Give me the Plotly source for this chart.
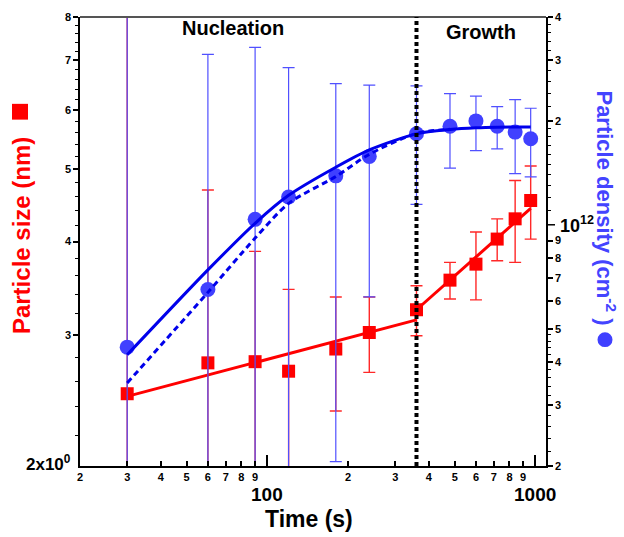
import math
import plotly.graph_objects as go

# ---------------- data ----------------
time_s = [30, 60, 90, 120, 180, 240, 360, 480, 600, 720, 840, 960]
size_nm = [2.50, 2.75, 2.76, 2.68, 2.87, 3.02, 3.24, 3.55, 3.73, 4.03, 4.29, 4.54]
size_err = [6.0, 1.94, 1.12, 0.77, 0.50, 0.35, 0.25, 0.20, 0.39, 0.26, 0.54, 0.51]
density = [4.42e11, 6.49e11, 1.037e12, 1.204e12, 1.386e12, 1.578e12, 1.836e12,
           1.93e12, 2.0e12, 1.93e12, 1.856e12, 1.776e12]
density_err = [5e12, 2.47e12, 2.23e12, 1.65e12, 1.18e12, 0.96e12, 0.69e12,
               0.47e12, 0.36e12, 0.27e12, 0.45e12, 0.40e12]

# fitted curves
size_fit_nuc_t = [30, 360]
size_fit_nuc = [2.48, 3.14]
size_fit_gro_t = [360, 960]
size_fit_gro = [3.24, 4.43]
dens_fit_solid_t = [30, 60, 90, 120, 180, 240, 360, 480, 600, 720, 960]
dens_fit_solid = [4.20e11, 7.40e11, 1.01e12, 1.217e12, 1.468e12, 1.648e12,
                  1.834e12, 1.888e12, 1.91e12, 1.918e12, 1.92e12]
dens_fit_dash_t = [30, 60, 90, 120, 180, 240, 360, 480]
dens_fit_dash = [3.48e11, 6.37e11, 9.15e11, 1.153e12, 1.38e12, 1.60e12, 1.84e12, 1.89e12]

boundary_t = 360

# tick values / labels
x_tick_vals = [20, 30, 40, 50, 60, 70, 80, 90, 200, 300, 400, 500, 600, 700, 800, 900]
x_tick_text = ["2", "3", "4", "5", "6", "7", "8", "9", "2", "3", "4", "5", "6", "7", "8", "9"]
x_major_vals = [100, 1000]
x_major_text = ["100", "1000"]
y1_tick_vals = [3, 4, 5, 6, 7, 8]
y1_tick_text = ["3", "4", "5", "6", "7", "8"]
y2_tick_vals = [2e11, 3e11, 4e11, 5e11, 6e11, 7e11, 8e11, 9e11, 2e12, 3e12, 4e12]
y2_tick_text = ["2", "3", "4", "5", "6", "7", "8", "9", "2", "3", "4"]
y2_big_tick = 1e12

FONT = "Liberation Sans, Arial, sans-serif"
RED = "#ff0000"
BLUE_PT = "rgb(64,64,255)"
BLUE_LINE = "rgb(0,0,235)"
BLUE_TXT = "rgb(68,68,255)"

W, H = 624, 537
L, R, T, B = 80, 78, 11, 71
PW, PH = W - L - R, H - T - B


def px(xp):
    return (xp - L) / PW


def py(yp):
    return (H - B - yp) / PH


fig = go.Figure()

# blue density points with error bars
fig.add_trace(go.Scatter(
    x=time_s, y=density, yaxis="y2", mode="markers",
    marker=dict(symbol="circle", size=15, color=BLUE_PT, line=dict(width=0)),
    error_y=dict(type="data", array=density_err, symmetric=True,
                 color="rgb(80,80,255)", thickness=1.2, width=6),
    showlegend=False))

# blue fits
fig.add_trace(go.Scatter(
    x=dens_fit_dash_t, y=dens_fit_dash, yaxis="y2", mode="lines",
    line=dict(color=BLUE_LINE, width=3, dash="6px,4px", shape="spline", smoothing=0.8),
    showlegend=False))
fig.add_trace(go.Scatter(
    x=dens_fit_solid_t, y=dens_fit_solid, yaxis="y2", mode="lines",
    line=dict(color=BLUE_LINE, width=3, shape="spline", smoothing=0.8),
    showlegend=False))

# red size points with error bars
fig.add_trace(go.Scatter(
    x=time_s, y=size_nm, yaxis="y", mode="markers",
    marker=dict(symbol="square", size=13, color=RED, line=dict(width=0)),
    error_y=dict(type="data", array=size_err, symmetric=True,
                 color="rgb(255,40,40)", thickness=1.4, width=6),
    showlegend=False))

# red fits
fig.add_trace(go.Scatter(
    x=size_fit_nuc_t, y=size_fit_nuc, yaxis="y", mode="lines",
    line=dict(color=RED, width=3), showlegend=False))
fig.add_trace(go.Scatter(
    x=size_fit_gro_t, y=size_fit_gro, yaxis="y", mode="lines",
    line=dict(color=RED, width=3), showlegend=False))

tickfont = dict(family=FONT, size=11, color="black", weight="bold")

fig.update_layout(
    width=W, height=H,
    margin=dict(l=L, r=R, t=T, b=B, pad=0),
    paper_bgcolor="white", plot_bgcolor="white",
    font=dict(family=FONT, color="black"),
    xaxis=dict(
        type="log", range=[math.log10(20), math.log10(1095)],
        tickmode="array", tickvals=x_tick_vals, ticktext=x_tick_text,
        ticks="inside", ticklen=5, tickwidth=1.5, tickcolor="black",
        tickfont=tickfont, showgrid=False, zeroline=False,
        showline=True, linecolor="black", linewidth=1.5,
        minor=dict(tickvals=x_major_vals, ticks="inside", ticklen=11,
                   tickwidth=1.5, tickcolor="black", showgrid=False),
    ),
    yaxis=dict(
        type="log", range=[math.log10(2), math.log10(8)],
        tickmode="array", tickvals=y1_tick_vals, ticktext=y1_tick_text,
        ticks="outside", ticklen=5, tickwidth=1.5, tickcolor="black",
        tickfont=tickfont, showgrid=False, zeroline=False,
        showline=True, linecolor="black", linewidth=1.5,
        minor=dict(tickvals=[round(2 + 0.2 * i, 2) for i in range(1, 30) if i % 5 != 0],
                   ticks="outside", ticklen=3, tickwidth=1.2, tickcolor="black",
                   showgrid=False),
    ),
    yaxis2=dict(
        type="log", range=[math.log10(2e11), math.log10(4e12)],
        overlaying="y", side="right",
        tickmode="array", tickvals=y2_tick_vals, ticktext=y2_tick_text,
        ticks="outside", ticklen=5, tickwidth=1.5, tickcolor="black",
        tickfont=tickfont, showgrid=False, zeroline=False,
        showline=True, linecolor="black", linewidth=1.5,
        minor=dict(tickvals=[2.2e11, 2.4e11, 2.6e11, 2.8e11, 3.2e11, 3.4e11, 3.6e11, 3.8e11,
                             4.2e11, 4.4e11, 4.6e11, 4.8e11,
                             1.1e12, 1.2e12, 1.3e12, 1.4e12, 1.5e12, 1.6e12, 1.7e12, 1.8e12, 1.9e12,
                             2.2e12, 2.4e12, 2.6e12, 2.8e12, 3.2e12, 3.4e12, 3.6e12, 3.8e12],
                   ticks="outside", ticklen=3, tickwidth=1.2, tickcolor="black",
                   showgrid=False),
    ),
)

shapes = []
# top border
shapes.append(dict(type="line", xref="paper", yref="paper", x0=0, x1=1, y0=1, y1=1,
                   line=dict(color="#555555", width=2), layer="above"))
# longer tick for 10^12 (shape positions on log axes are data values)
shapes.append(dict(type="line", xref="paper", yref="y2", x0=1, x1=1 + 9 / PW,
                   y0=y2_big_tick, y1=y2_big_tick, line=dict(color="black", width=1.5)))
# nucleation / growth boundary
shapes.append(dict(type="line", xref="x", yref="paper",
                   x0=boundary_t, x1=boundary_t, y0=0, y1=1,
                   line=dict(color="black", width=4, dash="4px,3px"), layer="above"))
# legend-like symbols next to axis titles
shapes.append(dict(type="rect", xref="paper", yref="paper",
                   x0=px(12), x1=px(28), y0=py(115), y1=py(99),
                   fillcolor=RED, line=dict(width=0)))
shapes.append(dict(type="circle", xref="paper", yref="paper",
                   x0=px(597.5), x1=px(612.5), y0=py(345.5), y1=py(330.5),
                   fillcolor=BLUE_PT, line=dict(width=0)))
fig.update_layout(shapes=shapes)

ann = []


def bold(s, c="black"):
    return dict(family=FONT, size=s, color=c, weight="bold")


def A(text, x, y, font, xref="paper", yref="paper", xanchor="center", yanchor="middle", **kw):
    d = dict(text=text, xref=xref, yref=yref, x=x, y=y, xanchor=xanchor, yanchor=yanchor,
             showarrow=False, font=font)
    d.update(kw)
    return d


ann.append(A("Nucleation", px(233), py(22), bold(20)))
ann.append(A("Growth", px(481), py(26), bold(20)))
for v, t in zip(x_major_vals, x_major_text):
    ann.append(A(t, math.log10(v), py(495), bold(19), xref="x"))
ann.append(A("Time (s)", px(309), py(520), bold(23)))
ann.append(A("2x10<sup>0</sup>", px(73), py(463), bold(17), xanchor="right"))
ann.append(A("10<sup>12</sup>", px(558), math.log10(y2_big_tick), bold(18), yref="y2",
             xanchor="left"))
ann.append(A("Particle size (nm)", px(21), py(233), bold(24, RED), textangle=-90))
ann.append(A("Particle density (cm<sup>-2</sup> )", px(606), py(204), bold(22, BLUE_TXT),
             textangle=90))
fig.update_layout(annotations=ann)

fig.write_html("out.html")
